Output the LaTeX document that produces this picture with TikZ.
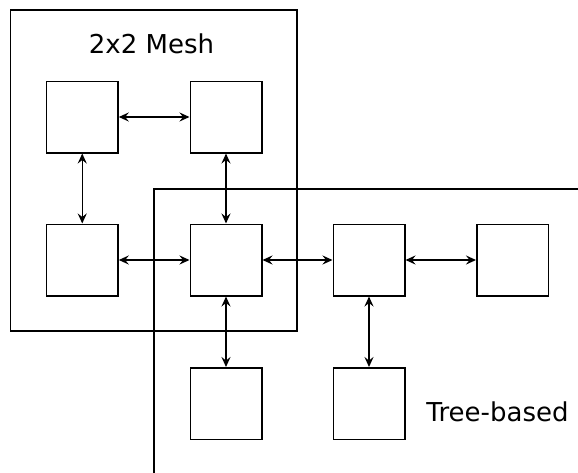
\documentclass[tikz,border=0pt]{standalone}
\usepackage{fontspec}
\setmainfont{DejaVu Sans}
\usetikzlibrary{arrows.meta}
\begin{document}
\begin{tikzpicture}[x=1pt,y=-1pt,
  sq/.style={draw,line width=1.5pt,minimum width=71.5pt,minimum height=71.5pt,inner sep=0pt},
  frame/.style={draw,line width=1.5pt},
  tip/.style={Stealth[length=10pt,width=9pt,inset=3.5pt]},
  arr/.style={line width=1.5pt,{Stealth[length=10pt,width=9pt,inset=3.5pt]}-{Stealth[length=10pt,width=9pt,inset=3.5pt]}},
  lbl/.style={font=\fontsize{26}{30}\selectfont,inner sep=0pt,anchor=base}]
\useasboundingbox (0,0) rectangle (578,472);
% frames
\draw[frame] (10.5,10) rectangle (297,331);
\coordinate (tr) at (580,189);
\coordinate (tl) at (154,189);
\coordinate (bl) at (154,474);
\draw[frame] (tr) -- (tl) -- (bl);
% squares
\node[sq] (a) at (82.25,117) {};
\node[sq] (b) at (226,117) {};
\node[sq] (c) at (82.25,260) {};
\node[sq] (d) at (226,260) {};
\node[sq] (e) at (369,260) {};
\node[sq] (f) at (512.5,260) {};
\node[sq] (g) at (226,403.5) {};
\node[sq] (h) at (369,403.5) {};
% labels
\node[lbl] (mesh) at (151.5,53) {2x2 Mesh};
\node[lbl] (tree) at (497.5,421) {Tree-based};
% connectors
\draw[arr] (a.east) -- (b.west);
\draw[arr] (a.south) -- (c.north);
\draw[arr] (b.south) -- (d.north);
\draw[arr] (c.east) -- (d.west);
\draw[arr] (d.east) -- (e.west);
\draw[arr] (e.east) -- (f.west);
\draw[arr] (d.south) -- (g.north);
\draw[arr] (e.south) -- (h.north);
\end{tikzpicture}
\end{document}
